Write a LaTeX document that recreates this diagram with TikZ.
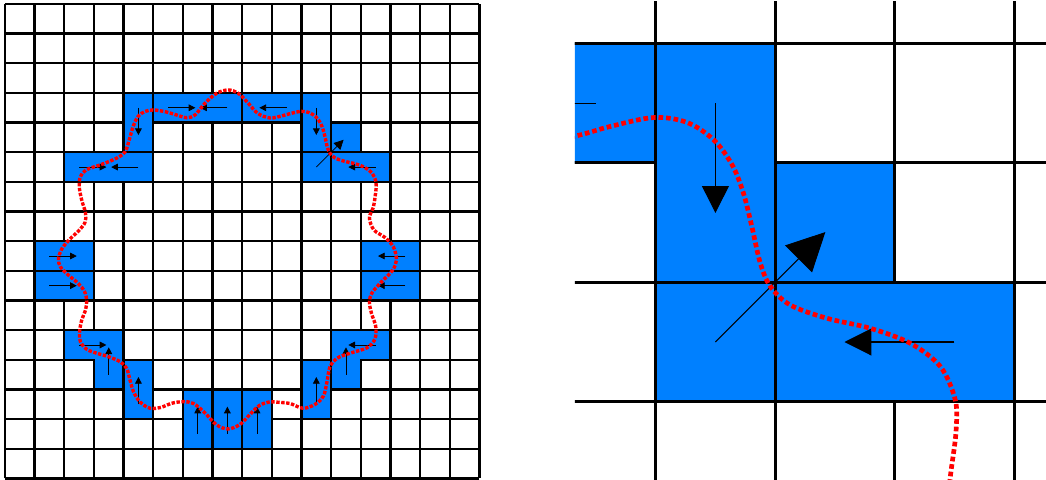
\documentclass[tikz,border=0pt]{standalone}
\usepackage{tikz}
\usetikzlibrary{arrows.meta}
\definecolor{cellblue}{RGB}{0,128,255}

% one copy of the lattice: #1 head scale, #2 grid width, #3 shaft width, #4 dot size, #5 dot gap
\newcommand{\fieldpanel}[5]{%
  \draw[line width=#2, step={(1,1)}] (0,0) grid (16,16);
  \foreach \xa/\ya/\xb/\yb in {4/11/5/13, 2/10/5/11, 5/12/8/13, 8/12/10/13, 10/11/11/13,
      11/11/12/12, 10/10/11/11, 11/10/13/11, 1/7/3/8, 1/6/3/7, 12/7/14/8, 12/6/14/7,
      4/2/5/4, 6/1/7/3, 7/1/8/3, 8/1/9/3, 10/2/11/4}
    \path[cellbox=#2] (\xa,\ya) rectangle (\xb,\yb);
  \path[cellbox=#2] (2,5) -- (4,5) -- (4,3) -- (3,3) -- (3,4) -- (2,4) -- cycle;
  \path[cellbox=#2] (11,5) -- (13,5) -- (13,4) -- (12,4) -- (12,3) -- (11,3) -- cycle;
  \foreach \c/\r/\dx/\dy in {4/3/0/-1, 5/3/1/0, 7/3/-1/0, 9/3/-1/0, 10/3/0/-1, 2/5/1/0,
      4/5/-1/0, 12/5/-1/0, 1/8/1/0, 1/9/1/0, 13/8/-1/0, 13/9/-1/0, 2/11/1/0, 3/12/0/1,
      4/13/0/1, 6/14/0/1, 7/14/0/1, 8/14/0/1, 10/13/0/1, 11/12/0/1, 12/11/-1/0}
    \draw[nvec=#1, line width=#3] ({\c+.5},{15.5-\r}) -- ++({.92*\dx},{.92*\dy});
  \pgfmathsetmacro\diagscale{1.414*#1}
  \draw[nvec=\diagscale, line width=#3] (10.5,10.5) -- ++(.92,.92);
  % interface, traced in pixel units
  \begin{scope}[shift={(-0.1686,16.1349)}, x=0.02698cm, y=-0.02698cm]
    \draw[front={#4}{#5}] plot[smooth cycle, tension=.55] coordinates {
      (153.3,110) (165,111.7) (176.7,115) (186.7,117.7) (195,115) (205,103.3)
      (216.7,93.3) (228.3,90) (238.3,93.3) (248.3,103.3) (258,113.5) (270,118)
      (281.6,116) (290.3,113.6) (301,111.4) (309.3,112.6) (315.9,116.9) (320.5,123.1)
      (323.3,130.1) (325.4,138.4) (327.5,147.5) (330,153.3) (334.9,157.9) (344,161.2)
      (354.8,163.7) (364.7,167.4) (372.2,173.2) (375.9,181.5) (376.1,189) (375.1,197.2)
      (373.5,207) (369.5,218) (374,230) (385,237.5) (393.5,247) (396.5,260)
      (392.5,270.5) (381,282.5) (372,293) (369.5,302) (371.5,313.3) (375.8,326.5)
      (375,339) (367,347.8) (350,353.3) (337,358.3) (330,367) (327,382)
      (323.5,396) (315,404.5) (303,408.3) (290,403.5) (280,402.5) (270,402)
      (259.5,405.5) (250,414.5) (240,424.5) (228.3,429) (216.7,425) (204,412)
      (193.3,403.5) (183.3,401.7) (171,403.5) (161.7,407.3) (150,408.3) (140,402)
      (133.5,391.7) (130,380) (126.7,368.5) (120,361.7) (108.3,356.7) (96.7,353.3)
      (87,349.5) (80.5,342) (79.5,333) (81.5,321) (85.5,310) (86.7,301)
      (84.5,291.5) (78,283.3) (68.3,275) (60.5,267) (58.5,259) (61.5,249.5)
      (69,240) (78.5,231) (85,222.5) (85.5,213) (81.7,200) (79.3,187)
      (80.3,177) (86,170) (100,165) (115,159) (125,152) (129.5,139)
      (133,127) (138,116.5) (145,111.5)};
  \end{scope}
}

\begin{document}
\begin{tikzpicture}[
  x=0.8cm, y=0.8cm,
  cellbox/.style={fill=cellblue, draw=black, line width=#1},
  nvec/.style={-{Triangle[length=1.8mm, width=1.8mm, scale=#1]}},
  front/.style 2 args={draw=red, line width=#1, dash pattern=on #1 off #2}
]
\useasboundingbox (-0.1686,-0.054) rectangle (35.11,16.1349);
\fill[white] (-0.1686,-0.054) rectangle (35.11,16.1349);
% whole lattice
\fieldpanel{1}{1.8pt}{0.6pt}{2.6pt}{1.2pt}
% magnified corner
\begin{scope}
  \clip (19.224,-0.1) rectangle (35.2,16.078);
  \begin{scope}[shift={(-18.354,-37.715)}, scale=4.03]
    \fieldpanel{4.03}{2.2pt}{0.8pt}{3.6pt}{2.2pt}
  \end{scope}
\end{scope}
\end{tikzpicture}
\end{document}
